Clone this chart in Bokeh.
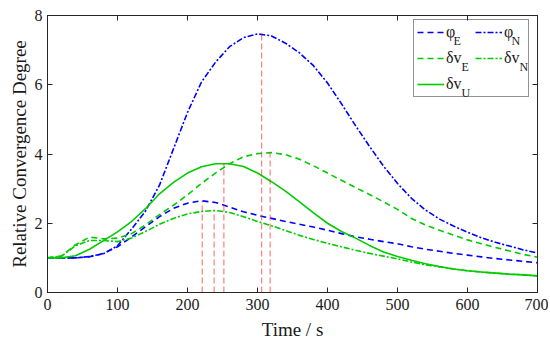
from bokeh.plotting import figure
from bokeh.models import Legend, LegendItem, LinearAxis, Label, FixedTicker, Range1d
from bokeh.embed import file_html
from bokeh.resources import INLINE

# ---------------- data ----------------
time_s = list(range(0, 701, 20))

phi_E = [1.00, 1.00, 1.00, 1.03, 1.13, 1.32, 1.60, 1.90, 2.19, 2.43, 2.58, 2.65,
         2.60, 2.47, 2.33, 2.23, 2.14, 2.05, 1.97, 1.89, 1.80, 1.70, 1.61, 1.54,
         1.47, 1.41, 1.32, 1.25, 1.19, 1.13, 1.08, 1.03, 0.98, 0.94, 0.90, 0.86]
phi_N = [1.00, 1.00, 1.00, 1.04, 1.12, 1.35, 1.83, 2.35, 3.10, 4.15, 5.20, 6.08,
         6.65, 7.10, 7.36, 7.47, 7.41, 7.20, 6.92, 6.55, 6.05, 5.45, 4.82, 4.22,
         3.65, 3.15, 2.72, 2.38, 2.12, 1.92, 1.74, 1.58, 1.45, 1.34, 1.23, 1.14]
dv_E = [1.00, 1.05, 1.38, 1.60, 1.55, 1.57, 1.70, 1.95, 2.25, 2.52, 2.82, 3.15,
        3.45, 3.72, 3.92, 4.01, 4.04, 3.98, 3.85, 3.66, 3.45, 3.24, 3.03, 2.83,
        2.62, 2.40, 2.14, 1.95, 1.80, 1.66, 1.52, 1.41, 1.30, 1.20, 1.10, 1.02]
dv_N = [1.00, 1.05, 1.35, 1.50, 1.50, 1.47, 1.57, 1.76, 1.97, 2.14, 2.27, 2.34,
        2.37, 2.31, 2.19, 2.05, 1.93, 1.79, 1.65, 1.53, 1.42, 1.32, 1.22, 1.13,
        1.05, 0.97, 0.88, 0.80, 0.74, 0.68, 0.63, 0.59, 0.56, 0.53, 0.51, 0.48]
dv_U = [1.00, 1.00, 1.06, 1.25, 1.50, 1.75, 2.05, 2.42, 2.85, 3.18, 3.45, 3.63,
        3.72, 3.72, 3.64, 3.45, 3.20, 2.93, 2.62, 2.30, 2.00, 1.76, 1.57, 1.36,
        1.17, 1.04, 0.93, 0.83, 0.75, 0.68, 0.63, 0.59, 0.56, 0.53, 0.51, 0.48]

peak_time = [221, 238, 252, 306, 318]
peak_value = [2.65, 2.37, 3.73, 7.48, 4.04]

x_ticks = [0, 100, 200, 300, 400, 500, 600, 700]
y_ticks = [0, 2, 4, 6, 8]

# ---------------- styles ----------------
FONT = "Liberation Serif"
AX = "#262626"
BLUE = "#0000ff"
GREEN = "#00cc00"
DASH = "6 4"
DASHDOT = "6 2 2 2"

p = figure(width=548, height=342, x_range=Range1d(0, 700), y_range=Range1d(0, 8),
           output_backend="svg", toolbar_location=None,
           min_border_left=47, min_border_right=11, min_border_top=15, min_border_bottom=49)
p.grid.visible = False
p.outline_line_color = AX
p.outline_line_width = 1
p.background_fill_color = "white"

for ax, ticks in ((p.xaxis[0], x_ticks), (p.yaxis[0], y_ticks)):
    ax.ticker = FixedTicker(ticks=ticks)
    ax.major_tick_in = 5
    ax.major_tick_out = 0
    ax.minor_tick_line_color = None
    ax.axis_line_color = AX
    ax.major_tick_line_color = AX
    ax.major_label_text_font = FONT
    ax.major_label_text_font_size = "16px"
    ax.major_label_text_color = "#1a1a1a"
    ax.axis_label_text_font = FONT
    ax.axis_label_text_font_size = "19px"
    ax.axis_label_text_font_style = "normal"
    ax.axis_label_text_color = "#1a1a1a"

p.xaxis.axis_label = "Time / s"
p.xaxis.major_label_standoff = 6
p.xaxis.axis_label_standoff = 6
p.yaxis.axis_label = "Relative Convergence Degree"
p.yaxis.major_label_standoff = 5
p.yaxis.axis_label_standoff = 2


def tick_only_axis(ticks):
    return LinearAxis(ticker=FixedTicker(ticks=ticks),
                      major_label_overrides={t: "" for t in ticks},
                      major_label_standoff=0, major_tick_in=5, major_tick_out=0,
                      minor_tick_line_color=None, axis_line_color=AX,
                      major_tick_line_color=AX)


p.add_layout(tick_only_axis(x_ticks), "above")
p.add_layout(tick_only_axis(y_ticks), "right")

r_phiE = p.line(time_s, phi_E, line_color=BLUE, line_width=1.6, line_dash=DASH)
r_phiN = p.line(time_s, phi_N, line_color=BLUE, line_width=1.6, line_dash=DASHDOT)
r_dvE = p.line(time_s, dv_E, line_color=GREEN, line_width=1.6, line_dash=DASH)
r_dvN = p.line(time_s, dv_N, line_color=GREEN, line_width=1.6, line_dash=DASHDOT)
r_dvU = p.line(time_s, dv_U, line_color=GREEN, line_width=1.6)

p.segment(x0=peak_time, y0=[0] * len(peak_time), x1=peak_time, y1=peak_value,
          line_color="#ff3030", line_alpha=0.75, line_width=1, line_dash="6 3")

legend = Legend(
    items=[LegendItem(label="φ", renderers=[r_phiE]),
           LegendItem(label="φ", renderers=[r_phiN]),
           LegendItem(label="δv", renderers=[r_dvE]),
           LegendItem(label="δv", renderers=[r_dvN]),
           LegendItem(label="δv", renderers=[r_dvU])],
    orientation="horizontal", ncols=2, location=(366, 195),
    padding=3, spacing=8, margin=0,
    glyph_width=27, glyph_height=18, label_standoff=2, label_width=21, label_height=18,
    label_text_font=FONT, label_text_font_size="16px", label_text_color="#1a1a1a",
    border_line_color=AX, border_line_width=1,
    background_fill_alpha=0.0)
p.add_layout(legend)

subs = [("E", 406, 252), ("N", 464, 252), ("E", 414, 226), ("N", 472, 226), ("U", 414, 200)]
for t, sx, sy in subs:
    p.add_layout(Label(x=sx, y=sy, x_units="screen", y_units="screen", text=t,
                       text_font=FONT, text_font_size="12px", text_baseline="middle",
                       text_color="#1a1a1a", level="overlay"))

open("out.html", "w").write(file_html(p, INLINE))
